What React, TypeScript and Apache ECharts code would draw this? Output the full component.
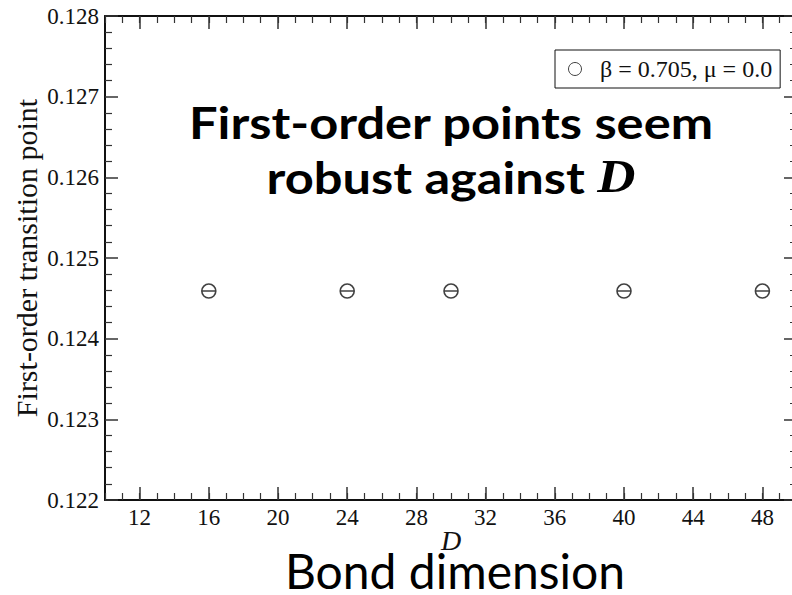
import React, { useEffect, useRef } from 'react';
import * as echarts from 'echarts';

// Bond dimension D and the located first-order transition point
const bondDims = [16, 24, 30, 40, 48];
const transitionPoints = [0.12459, 0.12459, 0.12459, 0.12459, 0.12459];

// Labelled ticks on the D axis
const xMajorTicks = [12, 16, 20, 24, 28, 32, 36, 40, 44, 48];
const xRange = [10, 50];
const yRange = [0.122, 0.128];

const seriesName = 'β = 0.705, μ = 0.0';
const yAxisTitle = 'First-order transition point';
const xAxisTitle = 'D';
const bottomCaption = 'Bond dimension';
const headline = 'First-order points seem\nrobust against {d|D}';

const SERIF = '"Liberation Serif", "Times New Roman", serif';
const SANS = 'Lato, "Open Sans", sans-serif';
const INK = '#111';
const TICK_FONT = 23;

// circle with a horizontal bar through it
const thetaSymbol = 'path://M0,-10A10,10 0 1,1 0,10A10,10 0 1,1 0,-10ZM-10,0L10,0';

export default function App() {
  const ref = useRef<HTMLDivElement>(null);

  useEffect(() => {
    if (!ref.current) return;
    const chart = echarts.init(ref.current, undefined, { renderer: 'svg' });

    const baseX = {
      type: 'value',
      min: xRange[0],
      max: xRange[1],
      splitLine: { show: false },
    };
    const baseY = {
      type: 'value',
      min: yRange[0],
      max: yRange[1],
      interval: 0.001,
      splitLine: { show: false },
    };

    chart.setOption({
      animation: false,
      backgroundColor: '#fff',
      grid: {
        left: 105,
        top: 16,
        right: -5,
        bottom: 95,
        containLabel: false,
        outerBoundsMode: 'none',
      },
      legend: {
        left: 555,
        top: 50,
        orient: 'horizontal',
        padding: [7, 8, 7, 13],
        borderColor: INK,
        borderWidth: 1,
        itemWidth: 40,
        itemHeight: 13,
        textStyle: { fontFamily: SERIF, fontSize: 24, color: INK },
        data: [
          {
            name: seriesName,
            icon: 'circle',
            itemStyle: { color: 'transparent', borderColor: INK, borderWidth: 1 },
          },
        ],
      },
      xAxis: [
        {
          ...baseX,
          position: 'bottom',
          name: xAxisTitle,
          nameLocation: 'middle',
          nameGap: 26,
          nameMoveOverlap: false,
          nameTextStyle: { fontFamily: SERIF, fontStyle: 'italic', fontSize: 28, color: INK },
          axisLine: { show: true, lineStyle: { color: INK, width: 2 } },
          axisTick: { inside: true, length: 13, customValues: xMajorTicks, lineStyle: { color: '#333', width: 1.5 } },
          axisLabel: { customValues: xMajorTicks, margin: 6, fontFamily: SERIF, fontSize: TICK_FONT, color: INK },
        },
        {
          ...baseX,
          position: 'bottom',
          interval: 1,
          axisLine: { show: false },
          axisTick: { inside: true, length: 7, lineStyle: { color: '#333', width: 1.2 } },
          axisLabel: { show: false },
        },
        {
          ...baseX,
          position: 'top',
          axisLine: { show: true, lineStyle: { color: INK, width: 2 } },
          axisTick: { inside: true, length: 13, customValues: xMajorTicks, lineStyle: { color: '#333', width: 1.5 } },
          axisLabel: { show: false },
        },
        {
          ...baseX,
          position: 'top',
          interval: 1,
          axisLine: { show: false },
          axisTick: { inside: true, length: 7, lineStyle: { color: '#333', width: 1.2 } },
          axisLabel: { show: false },
        },
      ],
      yAxis: [
        {
          ...baseY,
          position: 'left',
          name: yAxisTitle,
          nameLocation: 'middle',
          nameGap: 64,
          nameMoveOverlap: false,
          nameTextStyle: { fontFamily: SERIF, fontSize: 30, color: INK },
          axisLine: { show: true, lineStyle: { color: INK, width: 2 } },
          axisTick: { inside: true, length: 13, lineStyle: { color: '#333', width: 1.5 } },
          minorTick: { show: true, splitNumber: 5, length: 7, lineStyle: { color: '#333', width: 1.2 } },
          axisLabel: {
            margin: 6,
            fontFamily: SERIF,
            fontSize: TICK_FONT,
            color: INK,
            formatter: (v: number) => v.toFixed(3),
          },
        },
        {
          ...baseY,
          position: 'right',
          axisLine: { show: true, lineStyle: { color: INK, width: 2 } },
          axisTick: { inside: true, length: 13, lineStyle: { color: '#333', width: 1.5 } },
          minorTick: { show: true, splitNumber: 5, length: 7, lineStyle: { color: '#333', width: 1.2 } },
          axisLabel: { show: false },
        },
      ],
      series: [
        {
          name: seriesName,
          type: 'scatter',
          xAxisIndex: 0,
          yAxisIndex: 0,
          symbol: thetaSymbol,
          symbolSize: 14,
          itemStyle: { color: 'transparent', borderColor: INK, borderWidth: 1.6 },
          data: bondDims.map((d, i) => [d, transitionPoints[i]]),
        },
      ],
      graphic: [
        {
          type: 'text',
          x: 451,
          y: 149,
          scaleX: 1.15,
          style: {
            text: headline,
            fontFamily: SANS,
            fontWeight: 'bold',
            fontSize: 44,
            lineHeight: 55,
            fill: '#000',
            align: 'center',
            verticalAlign: 'middle',
            rich: {
              d: {
                fontFamily: SERIF,
                fontStyle: 'italic',
                fontWeight: 'bold',
                fontSize: 46,
                fill: '#000',
              },
            },
          },
        },
        {
          type: 'text',
          x: 455,
          y: 570,
          style: {
            text: bottomCaption,
            fontFamily: SANS,
            fontSize: 48,
            lineHeight: 40,
            fill: '#000',
            align: 'center',
            verticalAlign: 'middle',
          },
        },
      ],
    });

    return () => chart.dispose();
  }, []);

  return (
    <div
      ref={ref}
      style={{ position: 'fixed', left: 0, top: 0, width: 792, height: 595, overflow: 'hidden', background: '#fff' }}
    />
  );
}
